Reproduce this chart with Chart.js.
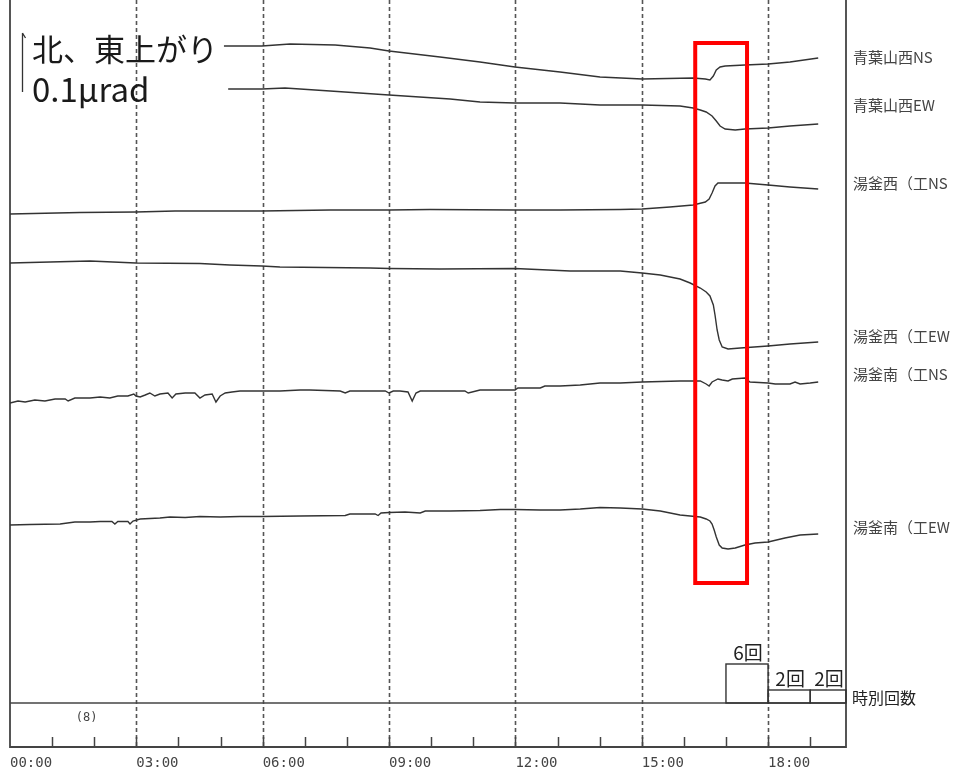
<!DOCTYPE html>
<html>
<head>
<meta charset="utf-8">
<script src="https://cdn.jsdelivr.net/npm/chart.js@4.4.1/dist/chart.umd.min.js"></script>
<style>
  html, body { margin: 0; padding: 0; background: #fff; }
  #wrap { width: 961px; height: 774px; position: relative; }
</style>
</head>
<body>
<div id="wrap"><canvas id="tilt"></canvas></div>
<script>
// 傾斜計 6成分 + 時別回数（00:00 - 19:50）
// 時刻は時間（小数）、値は図の縦位置（上ほど小さい）

const hourTicks = [0, 3, 6, 9, 12, 15, 18];

// 青葉山西NS
const aobaNsT = [5.08, 5.98, 6.65, 7.72, 8.55, 9.00, 10.21, 11.16, 11.99, 13.06, 14.01, 15.01, 16.22, 16.51, 16.62, 16.70, 16.77, 16.86, 16.98, 17.45, 18.00, 18.52, 19.19];
const aobaNsV = [46, 46, 44, 45, 48, 51, 57, 62, 67, 72, 77, 79, 78, 79, 80, 76, 70, 67, 66, 65, 64, 62, 58];

// 青葉山西EW
const aobaEwT = [5.18, 5.98, 6.53, 7.60, 9.00, 10.45, 11.16, 11.99, 13.06, 14.01, 15.01, 15.91, 16.22, 16.39, 16.53, 16.67, 16.77, 16.86, 16.98, 17.22, 17.45, 18.00, 18.52, 19.19];
const aobaEwV = [89, 89, 88, 91, 95, 99, 102, 103, 103, 105, 105, 106, 108, 110, 112, 116, 121, 126, 129, 130, 129, 128, 126, 124];

// 湯釜西（工）NS
const yugamaWNsT = [0, 1.66, 2.99, 3.92, 5.98, 7.60, 9.00, 9.97, 11.99, 13.06, 14.49, 15.01, 15.67, 16.22, 16.51, 16.60, 16.67, 16.74, 16.81, 17.45, 18.00, 18.52, 19.19];
const yugamaWNsV = [214, 212.5, 212, 211, 211, 210, 210, 209.5, 210, 210, 209.5, 209, 207, 205, 202, 199, 193, 186, 183, 183, 185, 187, 189];

// 湯釜西（工）EW
const yugamaWEwT = [0, 1.90, 2.99, 4.51, 5.22, 5.98, 6.41, 8.55, 9.00, 10.21, 11.99, 13.30, 14.49, 15.01, 15.44, 15.91, 16.15, 16.39, 16.53, 16.62, 16.70, 16.74, 16.79, 16.84, 16.91, 17.05, 17.34, 18.00, 18.52, 19.19];
const yugamaWEwV = [263, 261, 263, 263.5, 265, 266, 267, 268, 268.5, 269, 268.5, 271, 271, 273, 275, 279, 283, 288, 292, 296, 305, 315, 330, 340, 347, 349, 348, 346, 344, 342];

// 湯釜南（工）NS
const yugamaSNsT = [0, 0.19, 0.36, 0.59, 0.83, 1.07, 1.31, 1.38, 1.54, 1.90, 2.14, 2.37, 2.56, 2.80, 2.94, 2.99, 3.09, 3.21, 3.32, 3.44, 3.56, 3.75, 3.85, 3.94, 4.16, 4.39, 4.51, 4.63, 4.80, 4.89, 4.99, 5.11, 5.27, 5.46, 5.98, 6.41, 6.89, 7.12, 7.84, 7.96, 8.07, 8.91, 9.00, 9.10, 9.26, 9.45, 9.55, 9.64, 9.74, 10.21, 10.80, 10.88, 11.16, 11.99, 12.06, 12.59, 12.70, 13.06, 13.54, 14.01, 14.49, 15.01, 15.91, 16.39, 16.53, 16.60, 16.67, 16.81, 16.91, 17.05, 17.15, 17.45, 17.57, 18.00, 18.17, 18.52, 18.64, 18.76, 19.00, 19.19];
const yugamaSNsV = [403, 401, 402, 400, 401, 399, 399, 401, 398, 398, 397, 398, 396, 396, 394, 396, 397, 395, 393, 396, 394, 393, 398, 394, 393, 393, 398, 395, 394, 402, 396, 393, 392, 391, 391, 391, 390, 390, 391, 393, 391, 391, 393, 391, 391, 392, 401, 393, 391, 391, 391, 393, 390, 390, 388, 388, 386, 386, 385, 383, 383, 382, 381, 381, 384, 386, 382, 379, 380, 381, 379, 378, 382, 383, 384, 384, 382, 384, 383, 382];

// 湯釜南（工）EW
const yugamaSEwT = [0, 0.47, 1.19, 1.54, 1.90, 2.14, 2.42, 2.49, 2.56, 2.80, 2.85, 2.92, 3.09, 3.56, 3.80, 4.16, 4.51, 4.99, 5.46, 5.98, 6.89, 7.96, 8.07, 8.67, 8.74, 8.81, 9.00, 9.38, 9.74, 9.86, 10.45, 11.16, 11.64, 11.99, 12.59, 13.06, 13.54, 14.01, 14.49, 15.01, 15.44, 15.91, 16.39, 16.53, 16.62, 16.67, 16.72, 16.77, 16.84, 16.91, 17.05, 17.22, 17.45, 17.69, 18.00, 18.40, 18.76, 19.19];
const yugamaSEwV = [525, 524.5, 524, 522, 522, 521.5, 521.5, 524, 521.5, 521.5, 524, 521, 519, 518, 517, 517.5, 516.5, 517, 516.5, 516.5, 516, 515.5, 514, 514, 515.5, 513, 512.5, 512, 513, 511, 511, 510.5, 509.5, 509.5, 510, 510, 509, 507.5, 508, 509, 511, 515, 517, 519, 521, 524, 530, 537, 545, 548, 549, 548, 545, 543, 542, 538, 535, 534];

const seriesNames = ['青葉山西NS', '青葉山西EW', '湯釜西（工NS', '湯釜西（工EW', '湯釜南（工NS', '湯釜南（工EW'];
const seriesTimes = [aobaNsT, aobaEwT, yugamaWNsT, yugamaWEwT, yugamaSNsT, yugamaSEwT];
const seriesValues = [aobaNsV, aobaEwV, yugamaWNsV, yugamaWEwV, yugamaSNsV, yugamaSEwV];
const labelLevels = [57, 105, 183, 336, 374, 527];

// 時別回数
const countHours = [17, 18, 19];
const countValues = [6, 2, 2];
const countNote = '(8)';

// 注目区間（赤枠）
const focusFrom = 16.27, focusTo = 17.50, focusTop = 43, focusBottom = 583;

const X_MAX = 19.85;

function toPoints(ts, vs) {
    return ts.map((t, i) => ({ x: t, y: vs[i] }));
}

const datasets = seriesNames.map((name, i) => ({
    label: name,
    data: toPoints(seriesTimes[i], seriesValues[i]),
    borderColor: '#333',
    borderWidth: 1.4,
    pointRadius: 0,
    tension: 0,
    fill: false,
    yAxisID: 'y'
}));

const frameDeco = {
    id: 'frameDeco',
    beforeDatasetsDraw(chart) {
        const {ctx, chartArea: {left, right, top, bottom}, scales: {x, yh}} = chart;
        ctx.save();
        // 3時間ごとの破線
        ctx.strokeStyle = '#555';
        ctx.lineWidth = 1.6;
        ctx.setLineDash([4, 3]);
        hourTicks.forEach(h => {
            if (h === 0) return;
            const px = Math.round(x.getPixelForValue(h)) + 0.5;
            ctx.beginPath();
            ctx.moveTo(px, top);
            ctx.lineTo(px, bottom);
            ctx.stroke();
        });
        ctx.setLineDash([]);

        // 枠
        ctx.strokeStyle = '#444';
        ctx.lineWidth = 1.8;
        ctx.beginPath();
        ctx.moveTo(left, top);
        ctx.lineTo(left, bottom);
        ctx.lineTo(right, bottom);
        ctx.lineTo(right, top);
        ctx.stroke();

        // 時別回数の基線
        const base = yh.getPixelForValue(0);
        ctx.lineWidth = 1.5;
        ctx.beginPath();
        ctx.moveTo(left, base);
        ctx.lineTo(right, base);
        ctx.stroke();

        // 毎時の目盛り（内向き）
        ctx.lineWidth = 1.5;
        for (let h = 1; h < X_MAX; h++) {
            const px = Math.round(x.getPixelForValue(h)) + 0.5;
            ctx.beginPath();
            ctx.moveTo(px, bottom);
            ctx.lineTo(px, bottom - 10);
            ctx.stroke();
        }

        // 時別回数の棒
        ctx.strokeStyle = '#333';
        ctx.lineWidth = 1.4;
        ctx.fillStyle = '#222';
        countHours.forEach((h, i) => {
            const x0 = x.getPixelForValue(h);
            const x1 = x.getPixelForValue(Math.min(h + 1, X_MAX));
            const yTop = yh.getPixelForValue(countValues[i]);
            ctx.strokeRect(x0, yTop, x1 - x0, base - yTop);
            ctx.font = '19px "Noto Sans CJK JP"';
            ctx.textAlign = 'center';
            ctx.textBaseline = 'bottom';
            ctx.fillText(countValues[i] + '回', (x0 + x1) / 2 + 1, yTop - 2);
        });
        ctx.font = '12px "DejaVu Sans Mono"';
        ctx.fillStyle = '#444';
        ctx.textAlign = 'center';
        ctx.textBaseline = 'middle';
        ctx.fillText(countNote, x.getPixelForValue(1.82), base + 15);
        ctx.restore();
    },
    afterDatasetsDraw(chart) {
        const {ctx, chartArea: {left, right}, scales: {x, y, yh}} = chart;
        ctx.save();
        // 赤枠
        ctx.strokeStyle = '#ff0000';
        ctx.lineWidth = 4;
        const rx0 = x.getPixelForValue(focusFrom), rx1 = x.getPixelForValue(focusTo);
        const ry0 = y.getPixelForValue(focusTop), ry1 = y.getPixelForValue(focusBottom);
        ctx.strokeRect(rx0, ry0, rx1 - rx0, ry1 - ry0);

        // 右側の成分名
        ctx.fillStyle = '#444';
        ctx.font = '15px "Noto Sans CJK JP"';
        ctx.textAlign = 'left';
        ctx.textBaseline = 'middle';
        seriesNames.forEach((name, i) => {
            ctx.fillText(name, right + 7, y.getPixelForValue(labelLevels[i]));
        });
        ctx.font = '16px "Noto Sans CJK JP"';
        ctx.fillStyle = '#222';
        ctx.fillText('時別回数', right + 6, yh.getPixelForValue(0) - 5);

        // スケール表示
        ctx.fillStyle = '#1a1a1a';
        ctx.font = '31px "Noto Sans CJK JP"';
        ctx.textBaseline = 'middle';
        ctx.fillText('北、東上がり', left + 22, y.getPixelForValue(49));
        ctx.font = '33px "Noto Sans CJK JP"';
        ctx.fillText('0.1µrad', left + 22, y.getPixelForValue(89));
        ctx.strokeStyle = '#333';
        ctx.lineWidth = 1.3;
        const bx = left + 12.5;
        ctx.beginPath();
        ctx.moveTo(bx, y.getPixelForValue(33));
        ctx.lineTo(bx, y.getPixelForValue(92));
        ctx.moveTo(bx, y.getPixelForValue(33));
        ctx.lineTo(bx + 3, y.getPixelForValue(38));
        ctx.stroke();
        ctx.restore();
    }
};

new Chart(document.getElementById('tilt'), {
    type: 'line',
    data: { datasets },
    options: {
        responsive: true,
        maintainAspectRatio: false,
        animation: false,
        layout: { padding: { left: 10, right: 115, top: 0, bottom: 0 } },
        plugins: {
            legend: { display: false },
            tooltip: { enabled: false }
        },
        scales: {
            x: {
                type: 'linear',
                min: 0,
                max: X_MAX,
                afterBuildTicks: scale => {
                    scale.ticks = hourTicks.map(h => ({ value: h }));
                },
                afterFit: scale => { scale.height = 27; },
                grid: { display: false, drawTicks: false },
                border: { display: false },
                ticks: {
                    align: 'start',
                    maxRotation: 0,
                    autoSkip: false,
                    padding: 8,
                    color: '#444',
                    font: { family: 'DejaVu Sans Mono', size: 14 },
                    callback: v => String(v).padStart(2, '0') + ':00'
                }
            },
            y: {
                type: 'linear',
                min: 0,
                max: 747,
                reverse: true,
                display: false
            },
            yh: {
                type: 'linear',
                min: -6.77,
                max: 108.16,
                display: false
            }
        }
    },
    plugins: [frameDeco]
});
</script>
</body>
</html>
